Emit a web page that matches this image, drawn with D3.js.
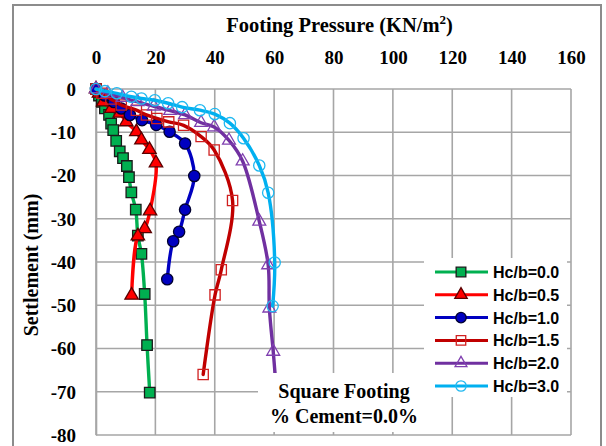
<!DOCTYPE html>
<html>
<head>
<meta charset="utf-8">
<script src="https://cdn.jsdelivr.net/npm/d3@7"></script>
<style>
  html, body { margin: 0; padding: 0; background: #fff; }
  svg { display: block; }
</style>
</head>
<body>
<svg id="chart" width="606" height="446"></svg>
<script>
// Axis ticks
const pressureTicks = [0, 20, 40, 60, 80, 100, 120, 140, 160];
const settlementTicks = [0, -10, -20, -30, -40, -50, -60, -70, -80];

// Load–settlement curves: [footing pressure (kN/m²), settlement (mm)]
const hcb00 = [[0,0],[1,-1.5],[2,-3],[3,-4.5],[4.4,-6],[5.1,-8],[5.8,-9.5],[6.8,-12],[8,-14.4],[9.1,-16],[10.4,-17.8],[11.1,-20.4],[11.9,-23.9],[13.4,-27.9],[14.1,-33.9],[15.3,-38.1],[16.4,-47.4],[17.2,-59.2],[18.1,-70.2]];
const hcb05 = [[0,0],[1,-1],[2.4,-3],[5.2,-4.5],[8,-5.6],[10.2,-7.6],[13.6,-9.9],[15.3,-11.8],[18,-14],[20.2,-17.1],[18.2,-28.2],[16.4,-32.3],[14.1,-34],[12,-47.7]];
const hcb10 = [[0,0],[3,-1.5],[6,-3],[8.5,-4.5],[11.4,-6],[15.5,-7.2],[20.3,-8.3],[24.8,-9.9],[30,-12.6],[33.1,-20.1],[30,-27.9],[28,-33],[26,-35.2],[24,-44]];
const hcb15 = [[0,0],[2,-1],[5,-2.3],[8.5,-3.7],[13.6,-4.9],[17,-6],[20.5,-6.8],[24.5,-7.6],[29.5,-8.4],[35.4,-11],[39.8,-14.1],[46,-25.8],[42.2,-41.8],[40.1,-47.6],[36.1,-66]];
const hcb20 = [[0,0],[4,-1],[9,-2],[14,-3],[19.5,-4],[25,-5],[30,-6],[35.4,-7.8],[39.8,-8.8],[44.8,-11.9],[49.4,-16.7],[55,-30.6],[58,-40.7],[58.4,-50.7],[59.7,-60.7]];
const hcb20Tail = [[60.3,-65.7]];
const hcb30 = [[0,0],[3,-0.5],[7,-1],[11.9,-1.8],[15.3,-2.2],[19.8,-2.6],[24.3,-3.3],[29,-4.2],[35,-4.9],[40,-5.8],[45.1,-7.9],[49.7,-11.4],[55,-17.7],[58,-24],[60.2,-40.1],[59.5,-50.2]];

const seriesNames = ["Hc/b=0.0","Hc/b=0.5","Hc/b=1.0","Hc/b=1.5","Hc/b=2.0","Hc/b=3.0"];

const series = [
  { name: seriesNames[0], data: hcb00, tail: [], color: "#00B050", symbol: d3.symbolSquare, size: 110, fill: "#00B050", stroke: "#1a1a1a" },
  { name: seriesNames[1], data: hcb05, tail: [], color: "#FF0000", symbol: d3.symbolTriangle, size: 78, fill: "#FF0000", stroke: "#5a0000" },
  { name: seriesNames[2], data: hcb10, tail: [], color: "#0000C0", symbol: d3.symbolCircle, size: 100, fill: "#0000C0", stroke: "#000030" },
  { name: seriesNames[3], data: hcb15, tail: [], color: "#C00000", symbol: d3.symbolSquare, size: 105, fill: "none", stroke: "#D02020" },
  { name: seriesNames[4], data: hcb20, tail: hcb20Tail, color: "#7030A0", symbol: d3.symbolTriangle, size: 72, fill: "none", stroke: "#8040B0" },
  { name: seriesNames[5], data: hcb30, tail: [], color: "#00B0F0", symbol: d3.symbolCircle, size: 100, fill: "none", stroke: "#20B8F0" }
];

const svg = d3.select("#chart");
const plot = { left: 96, right: 571, top: 89, bottom: 435 };

// Outer frame
svg.append("rect")
  .attr("x", 13).attr("y", 5).attr("width", 588).attr("height", 450)
  .attr("fill", "#fff").attr("stroke", "#8c8c8c").attr("stroke-width", 2);

const x = d3.scaleLinear().domain([0, 160]).range([plot.left, plot.right]);
const y = d3.scaleLinear().domain([0, -80]).range([plot.top, plot.bottom]);

const serif = "'Liberation Serif', 'Times New Roman', serif";
const sans = "'Liberation Sans', Arial, sans-serif";

// Gridlines
const grid = svg.append("g").attr("stroke", "#a6a6a6").attr("stroke-width", 1.6);
grid.selectAll("line.v").data(pressureTicks).join("line")
  .attr("x1", d => x(d)).attr("x2", d => x(d))
  .attr("y1", plot.top).attr("y2", plot.bottom);
grid.selectAll("line.h").data(settlementTicks).join("line")
  .attr("x1", plot.left).attr("x2", plot.right)
  .attr("y1", d => y(d)).attr("y2", d => y(d));

// Top axis labels
const xAxis = d3.axisTop(x).tickValues(pressureTicks).tickSize(0).tickPadding(25).tickFormat(d3.format("d"));
const gx = svg.append("g").attr("transform", `translate(0,${plot.top})`).call(xAxis);
gx.select(".domain").remove();
gx.selectAll("text").attr("font-family", serif).attr("font-weight", "bold")
  .attr("font-size", 19).attr("fill", "#000");

// Left axis labels
const yAxis = d3.axisLeft(y).tickValues(settlementTicks).tickSize(0).tickPadding(20).tickFormat(d => String(d));
const gy = svg.append("g").attr("transform", `translate(${plot.left},0)`).call(yAxis);
gy.select(".domain").attr("stroke", "#a6a6a6").attr("stroke-width", 1.6);
gy.selectAll("text").attr("font-family", serif).attr("font-weight", "bold")
  .attr("font-size", 19).attr("fill", "#000").attr("dy", "0.33em");

// Axis titles
const xt = svg.append("text")
  .attr("x", (plot.left + plot.right) / 2 + 6).attr("y", 32)
  .attr("text-anchor", "middle")
  .attr("font-family", serif).attr("font-weight", "bold").attr("font-size", 20.5);
xt.append("tspan").text("Footing Pressure (KN/m");
xt.append("tspan").attr("font-size", 13).attr("dy", -8).text("2");
xt.append("tspan").attr("dy", 8).text(")");

svg.append("text")
  .attr("transform", `translate(38,${(plot.top + plot.bottom) / 2 + 3}) rotate(-90)`)
  .attr("text-anchor", "middle")
  .attr("font-family", serif).attr("font-weight", "bold").attr("font-size", 20)
  .text("Settlement (mm)");

// Curves
const line = d3.line().x(d => x(d[0])).y(d => y(d[1])).curve(d3.curveCatmullRom.alpha(0.5));
const gs = svg.append("g");
series.forEach(s => {
  gs.append("path")
    .attr("d", line(s.data.concat(s.tail)))
    .attr("fill", "none").attr("stroke", s.color).attr("stroke-width", 3.4)
    .attr("stroke-linejoin", "round").attr("stroke-linecap", "round");
  gs.append("g").selectAll("path").data(s.data).join("path")
    .attr("transform", d => `translate(${x(d[0])},${y(d[1])})`)
    .attr("d", d3.symbol().type(s.symbol).size(s.size))
    .attr("fill", s.fill).attr("stroke", s.stroke).attr("stroke-width", 1.3);
});

// Annotation box
svg.append("rect").attr("x", 258).attr("y", 373).attr("width", 170).attr("height", 59).attr("fill", "#fff");
svg.append("text").attr("x", 344).attr("y", 398).attr("text-anchor", "middle")
  .attr("font-family", serif).attr("font-weight", "bold").attr("font-size", 20)
  .text("Square Footing");
svg.append("text").attr("x", 344).attr("y", 423).attr("text-anchor", "middle")
  .attr("font-family", serif).attr("font-weight", "bold").attr("font-size", 20)
  .text("% Cement=0.0%");

// Legend
const lg = svg.append("g");
lg.append("rect").attr("x", 424).attr("y", 258).attr("width", 143).attr("height", 139).attr("fill", "#fff");
const rows = lg.selectAll("g.row").data(series).join("g")
  .attr("transform", (d, i) => `translate(0,${272 + i * 22.8})`);
rows.append("line").attr("x1", 435).attr("x2", 488).attr("y1", 0).attr("y2", 0)
  .attr("stroke", d => d.color).attr("stroke-width", 3);
rows.append("path").attr("transform", "translate(461,0)")
  .attr("d", d => d3.symbol().type(d.symbol).size(d.size * 0.85)())
  .attr("fill", d => d.fill).attr("stroke", d => d.stroke).attr("stroke-width", 1.3);
rows.append("text").attr("x", 493).attr("y", 6)
  .attr("font-family", sans).attr("font-weight", "bold").attr("font-size", 16)
  .text(d => d.name);
</script>
</body>
</html>
